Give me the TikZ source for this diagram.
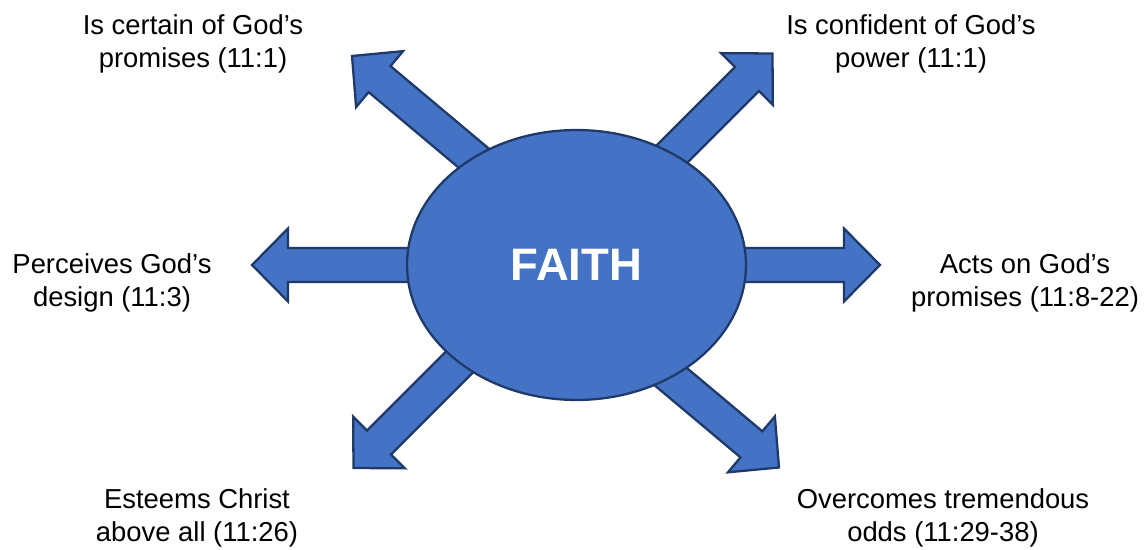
\documentclass[tikz,border=0pt]{standalone}
\usepackage{fontspec}
\setmainfont{Liberation Sans}
\usepackage{tikz}
\usetikzlibrary{shapes.geometric}

\definecolor{faithblue}{HTML}{4472C4}
\definecolor{faithedge}{HTML}{1F3A68}

\begin{document}
\begin{tikzpicture}[x=0.02cm, y=0.02cm,
        blockarrow/.style={fill=faithblue, draw=faithedge, line width=1.3pt, line join=miter},
        hub/.style={ellipse, fill=faithblue, draw=faithedge, line width=1.3pt, inner sep=0pt,
            minimum width=6.78cm, minimum height=5.4cm, text=white,
            font=\fontsize{25.9}{30}\selectfont\bfseries},
        lbl/.style={align=center, inner sep=0pt, font=\fontsize{15.6}{18.7}\selectfont}]
            \useasboundingbox (0,0) rectangle (1147,550);

            \coordinate (tL) at (252,285);
            \coordinate (tR) at (880,285);
            \coordinate (tUL) at (352,494);
            \coordinate (tUR) at (772.5,496.5);
            \coordinate (tLL) at (353.5,82);
            \coordinate (tLR) at (779,82.5);

            \foreach \tip/\ang/\len in {tL/180/220, tR/0/200, tUL/140/250, tUR/45/250, tLL/225/250, tLR/-40/250}
                \draw[blockarrow, shift={(\tip)}, rotate=\ang]
                    (0,0) -- (-36,36.5) -- (-36,17) -- (-\len,17) -- (-\len,-17) -- (-36,-17) -- (-36,-36.5) -- cycle;

            \node[hub] (faith) at (576.5,285) {FAITH};

            \node[lbl] (certain) at (193,506.5) {Is certain of God’s\\promises (11:1)};
            \node[lbl] (confident) at (911,506.5) {Is confident of God’s\\power (11:1)};
            \node[lbl] (perceives) at (112,267.5) {Perceives God’s\\design (11:3)};
            \node[lbl] (acts) at (1025,267.5) {Acts on God’s\\promises (11:8-22)};
            \node[lbl] (esteems) at (197,32) {Esteems Christ\\above all (11:26)};
            \node[lbl] (overcomes) at (943,32) {Overcomes tremendous\\odds (11:29-38)};
        \end{tikzpicture}
\end{document}
